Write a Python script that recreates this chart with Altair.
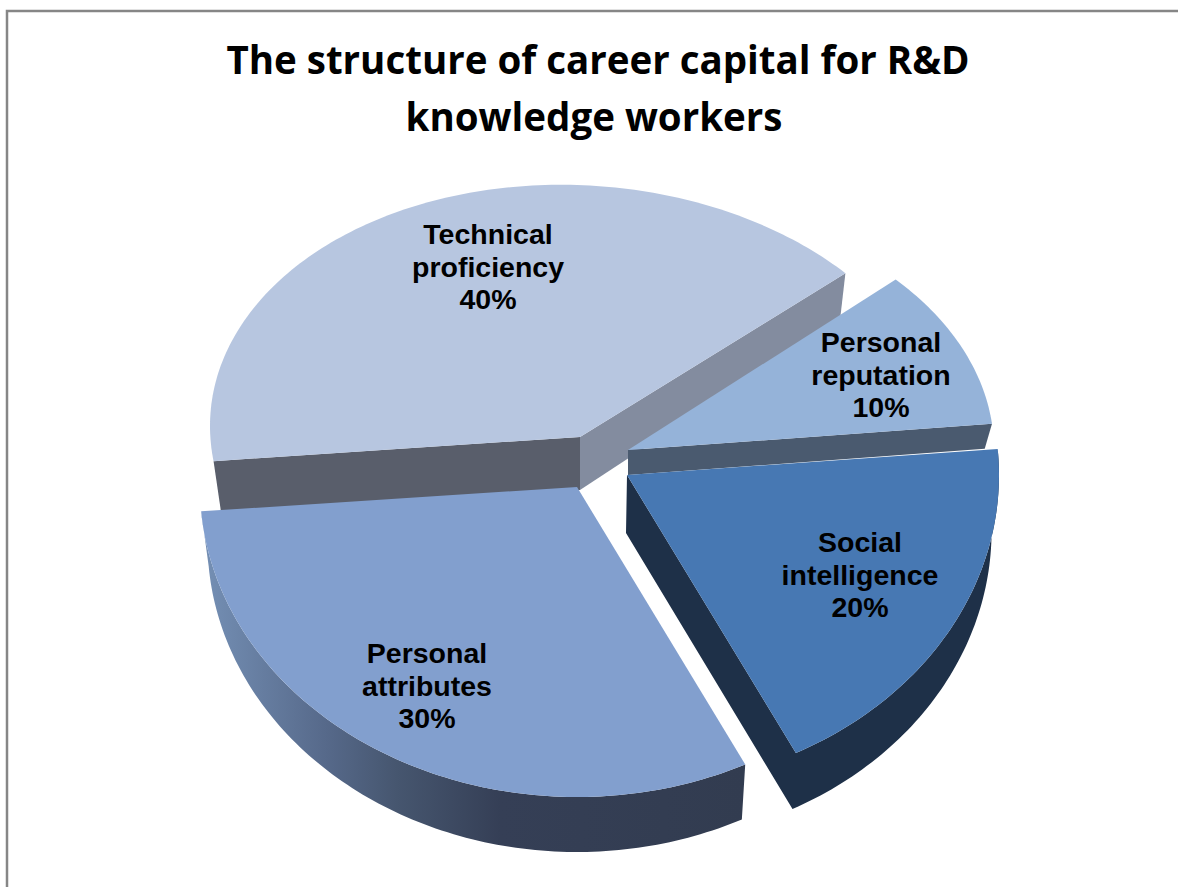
import math
import altair as alt
import pandas as pd

# Slice shares, in drawing order around the pie (counter-clockwise from the back right)
categories = ["Technical proficiency", "Personal attributes", "Social intelligence", "Personal reputation"]
shares = [40, 30, 20, 10]
label_lines = [["Technical", "proficiency"], ["Personal", "attributes"], ["Social", "intelligence"], ["Personal", "reputation"]]
title_lines = ["The structure of career capital for R&D", "knowledge workers"]

# Pie projection: apex, radii and small perspective corrections per slice
START_ANGLE = 43.0
apex = {"Technical proficiency": (580, 437), "Personal attributes": (577, 487),
        "Social intelligence": (627, 475), "Personal reputation": (628, 450)}
radii = {"Technical proficiency": (367, 252), "Personal attributes": (377, 310),
         "Social intelligence": (372, 312), "Personal reputation": (366, 250)}
angle_warp = {"Technical proficiency": (0, 1), "Personal attributes": (-2.5, 1.5),
              "Social intelligence": (2, -2.2), "Personal reputation": (-1, 0)}
tilt = {"Technical proficiency": 0.03, "Personal attributes": 0.0,
        "Social intelligence": 0.0, "Personal reputation": 0.0}
center_shift = {"Technical proficiency": -3, "Personal attributes": 0,
                "Social intelligence": 0, "Personal reputation": 0}
WALL_SHRINK = 0.98
wall_depth = {"Technical proficiency": 50, "Personal attributes": 55,
              "Social intelligence": 56, "Personal reputation": 25}

top_colors = {"Technical proficiency": "#B7C6E0", "Personal attributes": "#829FCE",
              "Social intelligence": "#4778B3", "Personal reputation": "#95B3D9"}
WALL_LEFT = "#595E6B"
WALL_RIGHT = "#838C9F"
WALL_REP = "#4A5A6F"
WALL_SOCIAL = "#1E3048"
wall_attr = alt.Gradient(
    gradient="linear", x1=0, x2=1, y1=0, y2=0,
    stops=[alt.GradientStop(color="#7590B5", offset=0),
           alt.GradientStop(color="#56698A", offset=0.23),
           alt.GradientStop(color="#46566F", offset=0.36),
           alt.GradientStop(color="#353F56", offset=0.55),
           alt.GradientStop(color="#323C50", offset=1)],
)

x_scale = alt.Scale(domain=[0, 1178], range=[0, 1178], nice=False, zero=False)
y_scale = alt.Scale(domain=[0, 887], range=[0, 887], nice=False, zero=False)


def polygon(points, fill):
    """One filled outline drawn through the shared pixel-domain scales."""
    frame = pd.DataFrame({"px": [p[0] for p in points], "py": [p[1] for p in points],
                          "i": list(range(len(points)))})
    return alt.Chart(frame).mark_line(fill=fill, stroke=None, strokeWidth=0, interpolate="linear-closed").encode(
        x=alt.X("px:Q", scale=x_scale, axis=None),
        y=alt.Y("py:Q", scale=y_scale, axis=None),
        order="i:Q",
    )


def arc(name, a0, a1, depth=0.0):
    cx, cy = apex[name]
    rx, ry = radii[name]
    n = max(2, int(abs(a1 - a0)))
    out = []
    for k in range(n + 1):
        t = math.radians(a0 + (a1 - a0) * k / n)
        dx = rx * math.cos(t)
        out.append((cx + center_shift[name] + dx, cy - ry * math.sin(t) + tilt[name] * dx + depth))
    return out


# Cumulative slice angles derived from the shares
spans = {}
cum = START_ANGLE
for name, share in zip(categories, shares):
    w0, w1 = angle_warp[name]
    spans[name] = (cum + w0, cum + share * 3.6 + w1)
    cum += share * 3.6


def wall_point(name, point, depth):
    cx = apex[name][0]
    return (cx + (point[0] - cx) * WALL_SHRINK, point[1] + depth)


layers = []

# Back slice: two cut faces, then its top
name = "Technical proficiency"
a0, a1 = spans[name]
ax, ay = apex[name]
tip_r = arc(name, a0, a0)[0]
tip_l = arc(name, a1, a1)[0]
d = wall_depth[name]
layers.append(polygon([(ax, ay), tip_l, wall_point(name, tip_l, d), (ax, ay + d + 3)], WALL_LEFT))
layers.append(polygon([(ax, ay), tip_r, wall_point(name, tip_r, d - 4), (ax, ay + d + 3)], WALL_RIGHT))
layers.append(polygon([(ax, ay)] + arc(name, a0, a1), top_colors[name]))

# Small back-right slice
name = "Personal reputation"
a0, a1 = spans[name]
ax, ay = apex[name]
d = wall_depth[name]
tip = arc(name, a0, a0)[0]
layers.append(polygon([(ax, ay), tip, wall_point(name, tip, d), (ax, ay + d)], WALL_REP))
layers.append(polygon([(ax, ay)] + arc(name, a0, a1), top_colors[name]))

# Front-left slice with its shaded rim
name = "Personal attributes"
a0, a1 = spans[name]
ax, ay = apex[name]
d = wall_depth[name]
rim = arc(name, a0, a1)
layers.append(polygon(rim + [wall_point(name, p, d) for p in reversed(rim)], wall_attr))
layers.append(polygon([(ax, ay)] + rim, top_colors[name]))

# Pulled-out front-right slice: inner cut face and outer rim share one colour
name = "Social intelligence"
a0, a1 = spans[name]
ax, ay = apex[name]
d = wall_depth[name]
rim = arc(name, a0, a1)
layers.append(polygon([(ax, ay), (ax - 1, ay + d + 2)] + [wall_point(name, p, d) for p in rim] + list(reversed(rim)), WALL_SOCIAL))
layers.append(polygon([(ax, ay)] + rim, top_colors[name]))

# Chart frame, running off the right and bottom of the page
frame_df = pd.DataFrame({"px": [7, 7, 1178], "py": [887, 11, 11], "i": [0, 1, 2]})
layers.append(alt.Chart(frame_df).mark_line(stroke="#868686", strokeWidth=2.5).encode(
    x=alt.X("px:Q", scale=x_scale, axis=None), y=alt.Y("py:Q", scale=y_scale, axis=None), order="i:Q"))

# Slice labels: name lines plus the share
label_pos = {"Technical proficiency": (488, 235), "Personal attributes": (427, 654),
             "Social intelligence": (860, 543), "Personal reputation": (881, 343)}
rows = []
for name, share, lines in zip(categories, shares, label_lines):
    x0, y0 = label_pos[name]
    for k, line in enumerate(lines + [f"{share}%"]):
        rows.append({"px": x0, "py": y0 + k * 32.5, "txt": line})
layers.append(alt.Chart(pd.DataFrame(rows)).mark_text(
    font="Liberation Sans", fontWeight="bold", fontSize=28.5, color="#000000", align="center", baseline="middle"
).encode(x=alt.X("px:Q", scale=x_scale, axis=None), y=alt.Y("py:Q", scale=y_scale, axis=None), text="txt:N"))

# Two-line heading
title_df = pd.DataFrame({"px": [598, 594], "py": [62, 119], "txt": title_lines})
layers.append(alt.Chart(title_df).mark_text(
    font="Open Sans", fontWeight="bold", fontSize=38.5, color="#000000", align="center", baseline="middle"
).encode(x=alt.X("px:Q", scale=x_scale, axis=None), y=alt.Y("py:Q", scale=y_scale, axis=None), text="txt:N"))

chart = alt.layer(*layers).properties(
    width=1178, height=887, padding=0, background="#FFFFFF", autosize=alt.AutoSizeParams(type="none")
).configure_view(stroke=None)

chart.save("out.html", embed_options={"renderer": "svg", "actions": False})
